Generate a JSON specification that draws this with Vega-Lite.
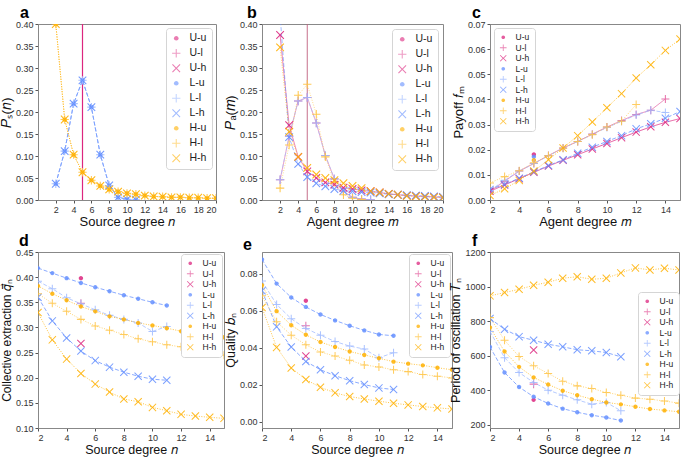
{
"$schema":"https://vega.github.io/schema/vega-lite/v6.json",
"autosize":{"type":"none"},
"padding":{"left":38,"top":24,"right":647,"bottom":435},
"background":"white",
"config":{"font":"Liberation Sans","view":{"stroke":"#888","strokeWidth":1},
 "axis":{"grid":false,"domainColor":"#888","tickColor":"#555","tickSize":3,"labelFontSize":9,"labelColor":"#333","titleFontWeight":"normal","titleColor":"#111","labelPadding":2,"titlePadding":2,"labelFont":"Liberation Sans","titleFont":"Liberation Sans","labelOverlap":false,"tickCount":30},
 "axisX":{"titlePadding":1},
 "legend":{"padding":5,"strokeColor":"#d5d5d5","fillColor":"#ffffff","cornerRadius":3,"symbolStrokeWidth":0,"labelFont":"Liberation Sans","labelColor":"#222","labelOffset":8},
 "title":{"font":"Liberation Sans","fontWeight":"bold","anchor":"start","frame":"group","color":"#000"}
},
"datasets":{
"av":[{"x":5}],
"bv":[{"x":5}],
"a":[
{"s":"L-u","x":2,"y":0.037},{"s":"L-u","x":3,"y":0.111},{"s":"L-u","x":4,"y":0.219},{"s":"L-u","x":5,"y":0.272},{"s":"L-u","x":6,"y":0.211},{"s":"L-u","x":7,"y":0.103},{"s":"L-u","x":8,"y":0.033},{"s":"L-u","x":9,"y":0.006},{"s":"L-u","x":10,"y":0.0015},{"s":"L-u","x":11,"y":0.0005},
{"s":"L-l","x":2,"y":0.037},{"s":"L-l","x":3,"y":0.111},{"s":"L-l","x":4,"y":0.219},{"s":"L-l","x":5,"y":0.272},{"s":"L-l","x":6,"y":0.211},{"s":"L-l","x":7,"y":0.103},{"s":"L-l","x":8,"y":0.033},{"s":"L-l","x":9,"y":0.006},{"s":"L-l","x":10,"y":0.0015},{"s":"L-l","x":11,"y":0.0005},
{"s":"L-h","x":2,"y":0.037},{"s":"L-h","x":3,"y":0.111},{"s":"L-h","x":4,"y":0.219},{"s":"L-h","x":5,"y":0.272},{"s":"L-h","x":6,"y":0.211},{"s":"L-h","x":7,"y":0.103},{"s":"L-h","x":8,"y":0.033},{"s":"L-h","x":9,"y":0.006},{"s":"L-h","x":10,"y":0.0015},{"s":"L-h","x":11,"y":0.0005},
{"s":"H-u","x":2,"y":0.40},{"s":"H-u","x":3,"y":0.183},{"s":"H-u","x":4,"y":0.103},{"s":"H-u","x":5,"y":0.063},{"s":"H-u","x":6,"y":0.045},{"s":"H-u","x":7,"y":0.032},{"s":"H-u","x":8,"y":0.024},{"s":"H-u","x":9,"y":0.019},{"s":"H-u","x":10,"y":0.015},{"s":"H-u","x":11,"y":0.013},{"s":"H-u","x":12,"y":0.010},{"s":"H-u","x":13,"y":0.008},{"s":"H-u","x":14,"y":0.0075},{"s":"H-u","x":15,"y":0.006},{"s":"H-u","x":16,"y":0.006},{"s":"H-u","x":17,"y":0.005},{"s":"H-u","x":18,"y":0.005},{"s":"H-u","x":19,"y":0.004},{"s":"H-u","x":20,"y":0.004},
{"s":"H-l","x":2,"y":0.40},{"s":"H-l","x":3,"y":0.183},{"s":"H-l","x":4,"y":0.103},{"s":"H-l","x":5,"y":0.063},{"s":"H-l","x":6,"y":0.045},{"s":"H-l","x":7,"y":0.032},{"s":"H-l","x":8,"y":0.024},{"s":"H-l","x":9,"y":0.019},{"s":"H-l","x":10,"y":0.015},{"s":"H-l","x":11,"y":0.013},{"s":"H-l","x":12,"y":0.010},{"s":"H-l","x":13,"y":0.008},{"s":"H-l","x":14,"y":0.0075},{"s":"H-l","x":15,"y":0.006},{"s":"H-l","x":16,"y":0.006},{"s":"H-l","x":17,"y":0.005},{"s":"H-l","x":18,"y":0.005},{"s":"H-l","x":19,"y":0.004},{"s":"H-l","x":20,"y":0.004},
{"s":"H-h","x":2,"y":0.40},{"s":"H-h","x":3,"y":0.183},{"s":"H-h","x":4,"y":0.103},{"s":"H-h","x":5,"y":0.063},{"s":"H-h","x":6,"y":0.045},{"s":"H-h","x":7,"y":0.032},{"s":"H-h","x":8,"y":0.024},{"s":"H-h","x":9,"y":0.019},{"s":"H-h","x":10,"y":0.015},{"s":"H-h","x":11,"y":0.013},{"s":"H-h","x":12,"y":0.010},{"s":"H-h","x":13,"y":0.008},{"s":"H-h","x":14,"y":0.0075},{"s":"H-h","x":15,"y":0.006},{"s":"H-h","x":16,"y":0.006},{"s":"H-h","x":17,"y":0.005},{"s":"H-h","x":18,"y":0.005},{"s":"H-h","x":19,"y":0.004},{"s":"H-h","x":20,"y":0.004}
],
"b":[
{"s":"U-l","x":2,"y":0.046},{"s":"U-l","x":3,"y":0.145},{"s":"U-l","x":4,"y":0.225},{"s":"U-l","x":5,"y":0.233},{"s":"U-l","x":6,"y":0.175},{"s":"U-l","x":7,"y":0.101},{"s":"U-l","x":8,"y":0.048},{"s":"U-l","x":9,"y":0.02},{"s":"U-l","x":10,"y":0.006},{"s":"U-l","x":11,"y":0.002},{"s":"U-l","x":12,"y":0.0005},
{"s":"L-l","x":2,"y":0.046},{"s":"L-l","x":3,"y":0.145},{"s":"L-l","x":4,"y":0.225},{"s":"L-l","x":5,"y":0.233},{"s":"L-l","x":6,"y":0.175},{"s":"L-l","x":7,"y":0.101},{"s":"L-l","x":8,"y":0.048},{"s":"L-l","x":9,"y":0.02},{"s":"L-l","x":10,"y":0.006},{"s":"L-l","x":11,"y":0.002},{"s":"L-l","x":12,"y":0.0005},
{"s":"H-l","x":2,"y":0.027},{"s":"H-l","x":3,"y":0.125},{"s":"H-l","x":4,"y":0.238},{"s":"H-l","x":5,"y":0.263},{"s":"H-l","x":6,"y":0.195},{"s":"H-l","x":7,"y":0.098},{"s":"H-l","x":8,"y":0.04},{"s":"H-l","x":9,"y":0.012},{"s":"H-l","x":10,"y":0.004},{"s":"H-l","x":11,"y":0.001},
{"s":"U-h","x":2,"y":0.375},{"s":"U-h","x":3,"y":0.17},{"s":"U-h","x":4,"y":0.098},{"s":"U-h","x":5,"y":0.065},{"s":"U-h","x":6,"y":0.05},{"s":"U-h","x":7,"y":0.04},{"s":"U-h","x":8,"y":0.035},{"s":"U-h","x":9,"y":0.028},{"s":"U-h","x":10,"y":0.025},{"s":"U-h","x":11,"y":0.022},{"s":"U-h","x":12,"y":0.02},{"s":"U-h","x":13,"y":0.017},{"s":"U-h","x":14,"y":0.014},{"s":"U-h","x":15,"y":0.012},{"s":"U-h","x":16,"y":0.010},{"s":"U-h","x":17,"y":0.009},{"s":"U-h","x":18,"y":0.008},{"s":"U-h","x":19,"y":0.007},{"s":"U-h","x":20,"y":0.006},
{"s":"L-h","x":2,"y":0.42},{"s":"L-h","x":3,"y":0.143},{"s":"L-h","x":4,"y":0.082},{"s":"L-h","x":5,"y":0.052},{"s":"L-h","x":6,"y":0.038},{"s":"L-h","x":7,"y":0.031},{"s":"L-h","x":8,"y":0.025},{"s":"L-h","x":9,"y":0.021},{"s":"L-h","x":10,"y":0.020},{"s":"L-h","x":11,"y":0.018},{"s":"L-h","x":12,"y":0.017},{"s":"L-h","x":13,"y":0.015},{"s":"L-h","x":14,"y":0.013},{"s":"L-h","x":15,"y":0.012},{"s":"L-h","x":16,"y":0.011},{"s":"L-h","x":17,"y":0.010},{"s":"L-h","x":18,"y":0.009},{"s":"L-h","x":19,"y":0.008},{"s":"L-h","x":20,"y":0.007},
{"s":"H-h","x":2,"y":0.347},{"s":"H-h","x":3,"y":0.155},{"s":"H-h","x":4,"y":0.098},{"s":"H-h","x":5,"y":0.073},{"s":"H-h","x":6,"y":0.058},{"s":"H-h","x":7,"y":0.050},{"s":"H-h","x":8,"y":0.045},{"s":"H-h","x":9,"y":0.038},{"s":"H-h","x":10,"y":0.032},{"s":"H-h","x":11,"y":0.027},{"s":"H-h","x":12,"y":0.020},{"s":"H-h","x":13,"y":0.017},{"s":"H-h","x":14,"y":0.014},{"s":"H-h","x":15,"y":0.012},{"s":"H-h","x":16,"y":0.009},{"s":"H-h","x":17,"y":0.008},{"s":"H-h","x":18,"y":0.007},{"s":"H-h","x":19,"y":0.006},{"s":"H-h","x":20,"y":0.005}
],
"c":[
{"s":"U-u","x":5,"y":0.0181},{"s":"L-u","x":5,"y":0.0172},{"s":"H-u","x":5,"y":0.0158},
{"s":"U-l","x":2,"y":0.0035},{"s":"U-l","x":3,"y":0.0075},{"s":"U-l","x":4,"y":0.0115},{"s":"U-l","x":5,"y":0.0145},{"s":"U-l","x":6,"y":0.0177},{"s":"U-l","x":7,"y":0.0207},{"s":"U-l","x":8,"y":0.0233},{"s":"U-l","x":9,"y":0.0262},{"s":"U-l","x":10,"y":0.029},{"s":"U-l","x":11,"y":0.0316},{"s":"U-l","x":12,"y":0.034},{"s":"U-l","x":13,"y":0.0357},{"s":"U-l","x":14,"y":0.0402},
{"s":"L-l","x":2,"y":0.0038},{"s":"L-l","x":3,"y":0.0078},{"s":"L-l","x":4,"y":0.0115},{"s":"L-l","x":5,"y":0.0145},{"s":"L-l","x":6,"y":0.0176},{"s":"L-l","x":7,"y":0.0206},{"s":"L-l","x":8,"y":0.0233},{"s":"L-l","x":9,"y":0.0261},{"s":"L-l","x":10,"y":0.0288},{"s":"L-l","x":11,"y":0.0313},{"s":"L-l","x":12,"y":0.0338},{"s":"L-l","x":13,"y":0.0357},{"s":"L-l","x":14,"y":0.0348},
{"s":"H-l","x":2,"y":0.0068},{"s":"H-l","x":3,"y":0.0093},{"s":"H-l","x":4,"y":0.0116},{"s":"H-l","x":5,"y":0.0148},{"s":"H-l","x":6,"y":0.0176},{"s":"H-l","x":7,"y":0.0206},{"s":"H-l","x":8,"y":0.0233},{"s":"H-l","x":9,"y":0.026},{"s":"H-l","x":10,"y":0.029},{"s":"H-l","x":11,"y":0.0313},{"s":"H-l","x":12,"y":0.038},
{"s":"U-h","x":2,"y":0.0035},{"s":"U-h","x":3,"y":0.006},{"s":"U-h","x":4,"y":0.0085},{"s":"U-h","x":5,"y":0.011},{"s":"U-h","x":6,"y":0.0135},{"s":"U-h","x":7,"y":0.0158},{"s":"U-h","x":8,"y":0.018},{"s":"U-h","x":9,"y":0.0203},{"s":"U-h","x":10,"y":0.0225},{"s":"U-h","x":11,"y":0.0248},{"s":"U-h","x":12,"y":0.027},{"s":"U-h","x":13,"y":0.0291},{"s":"U-h","x":14,"y":0.0309},{"s":"U-h","x":15,"y":0.0324},
{"s":"L-h","x":2,"y":0.0042},{"s":"L-h","x":3,"y":0.0062},{"s":"L-h","x":4,"y":0.0087},{"s":"L-h","x":5,"y":0.0112},{"s":"L-h","x":6,"y":0.0137},{"s":"L-h","x":7,"y":0.016},{"s":"L-h","x":8,"y":0.0186},{"s":"L-h","x":9,"y":0.021},{"s":"L-h","x":10,"y":0.0233},{"s":"L-h","x":11,"y":0.0256},{"s":"L-h","x":12,"y":0.0283},{"s":"L-h","x":13,"y":0.0303},{"s":"L-h","x":14,"y":0.0325},{"s":"L-h","x":15,"y":0.0352},
{"s":"H-h","x":2,"y":0.0018},{"s":"H-h","x":3,"y":0.0045},{"s":"H-h","x":4,"y":0.0078},{"s":"H-h","x":5,"y":0.0115},{"s":"H-h","x":6,"y":0.016},{"s":"H-h","x":7,"y":0.0207},{"s":"H-h","x":8,"y":0.0256},{"s":"H-h","x":9,"y":0.031},{"s":"H-h","x":10,"y":0.0367},{"s":"H-h","x":11,"y":0.0423},{"s":"H-h","x":12,"y":0.0485},{"s":"H-h","x":13,"y":0.0538},{"s":"H-h","x":14,"y":0.0595},{"s":"H-h","x":15,"y":0.064}
],
"d":[
{"s":"U-u","x":5,"y":0.398},{"s":"U-l","x":5,"y":0.348},{"s":"U-h","x":5,"y":0.268},
{"s":"L-u","x":2,"y":0.418},{"s":"L-u","x":3,"y":0.408},{"s":"L-u","x":4,"y":0.398},{"s":"L-u","x":5,"y":0.3885},{"s":"L-u","x":6,"y":0.380},{"s":"L-u","x":7,"y":0.372},{"s":"L-u","x":8,"y":0.364},{"s":"L-u","x":9,"y":0.357},{"s":"L-u","x":10,"y":0.350},{"s":"L-u","x":11,"y":0.3435},
{"s":"L-l","x":2,"y":0.392},{"s":"L-l","x":3,"y":0.377},{"s":"L-l","x":4,"y":0.359},{"s":"L-l","x":5,"y":0.347},{"s":"L-l","x":6,"y":0.335},{"s":"L-l","x":7,"y":0.324},{"s":"L-l","x":8,"y":0.316},{"s":"L-l","x":9,"y":0.309},{"s":"L-l","x":10,"y":0.292},{"s":"L-l","x":11,"y":0.302},
{"s":"L-h","x":2,"y":0.360},{"s":"L-h","x":3,"y":0.313},{"s":"L-h","x":4,"y":0.279},{"s":"L-h","x":5,"y":0.253},{"s":"L-h","x":6,"y":0.234},{"s":"L-h","x":7,"y":0.221},{"s":"L-h","x":8,"y":0.211},{"s":"L-h","x":9,"y":0.203},{"s":"L-h","x":10,"y":0.197},{"s":"L-h","x":11,"y":0.195},
{"s":"H-u","x":2,"y":0.3825},{"s":"H-u","x":3,"y":0.367},{"s":"H-u","x":4,"y":0.354},{"s":"H-u","x":5,"y":0.3415},{"s":"H-u","x":6,"y":0.332},{"s":"H-u","x":7,"y":0.322},{"s":"H-u","x":8,"y":0.316},{"s":"H-u","x":9,"y":0.309},{"s":"H-u","x":10,"y":0.304},{"s":"H-u","x":11,"y":0.2985},{"s":"H-u","x":12,"y":0.2925},{"s":"H-u","x":13,"y":0.288},{"s":"H-u","x":14,"y":0.2833},{"s":"H-u","x":15,"y":0.2806},
{"s":"H-l","x":2,"y":0.367},{"s":"H-l","x":3,"y":0.348},{"s":"H-l","x":4,"y":0.332},{"s":"H-l","x":5,"y":0.316},{"s":"H-l","x":6,"y":0.303},{"s":"H-l","x":7,"y":0.2945},{"s":"H-l","x":8,"y":0.286},{"s":"H-l","x":9,"y":0.2773},{"s":"H-l","x":10,"y":0.2714},{"s":"H-l","x":11,"y":0.2654},{"s":"H-l","x":12,"y":0.2614},{"s":"H-l","x":13,"y":0.2555},{"s":"H-l","x":14,"y":0.2489},{"s":"H-l","x":15,"y":0.2449},
{"s":"H-h","x":2,"y":0.3296},{"s":"H-h","x":3,"y":0.2753},{"s":"H-h","x":4,"y":0.237},{"s":"H-h","x":5,"y":0.2085},{"s":"H-h","x":6,"y":0.1873},{"s":"H-h","x":7,"y":0.1715},{"s":"H-h","x":8,"y":0.1576},{"s":"H-h","x":9,"y":0.1523},{"s":"H-h","x":10,"y":0.141},{"s":"H-h","x":11,"y":0.1344},{"s":"H-h","x":12,"y":0.1271},{"s":"H-h","x":13,"y":0.1238},{"s":"H-h","x":14,"y":0.1212},{"s":"H-h","x":15,"y":0.1192}
],
"e":[
{"s":"U-u","x":5,"y":0.0653},{"s":"U-l","x":5,"y":0.0518},{"s":"U-h","x":5,"y":0.0354},
{"s":"L-u","x":2,"y":0.0877},{"s":"L-u","x":3,"y":0.0746},{"s":"L-u","x":4,"y":0.0671},{"s":"L-u","x":5,"y":0.062},{"s":"L-u","x":6,"y":0.0579},{"s":"L-u","x":7,"y":0.0547},{"s":"L-u","x":8,"y":0.0518},{"s":"L-u","x":9,"y":0.0493},{"s":"L-u","x":10,"y":0.0471},{"s":"L-u","x":11,"y":0.0464},
{"s":"L-l","x":2,"y":0.076},{"s":"L-l","x":3,"y":0.0633},{"s":"L-l","x":4,"y":0.0556},{"s":"L-l","x":5,"y":0.0503},{"s":"L-l","x":6,"y":0.0467},{"s":"L-l","x":7,"y":0.0433},{"s":"L-l","x":8,"y":0.0408},{"s":"L-l","x":9,"y":0.0392},{"s":"L-l","x":10,"y":0.0345},{"s":"L-l","x":11,"y":0.0372},
{"s":"L-h","x":2,"y":0.0707},{"s":"L-h","x":3,"y":0.0512},{"s":"L-h","x":4,"y":0.0403},{"s":"L-h","x":5,"y":0.0325},{"s":"L-h","x":6,"y":0.028},{"s":"L-h","x":7,"y":0.0248},{"s":"L-h","x":8,"y":0.0221},{"s":"L-h","x":9,"y":0.020},{"s":"L-h","x":10,"y":0.0182},{"s":"L-h","x":11,"y":0.0173},
{"s":"H-u","x":2,"y":0.0737},{"s":"H-u","x":3,"y":0.0597},{"s":"H-u","x":4,"y":0.0521},{"s":"H-u","x":5,"y":0.0469},{"s":"H-u","x":6,"y":0.043},{"s":"H-u","x":7,"y":0.0403},{"s":"H-u","x":8,"y":0.0379},{"s":"H-u","x":9,"y":0.036},{"s":"H-u","x":10,"y":0.0342},{"s":"H-u","x":11,"y":0.0324},{"s":"H-u","x":12,"y":0.0313},{"s":"H-u","x":13,"y":0.0304},{"s":"H-u","x":14,"y":0.0291},{"s":"H-u","x":15,"y":0.028},
{"s":"H-l","x":2,"y":0.068},{"s":"H-l","x":3,"y":0.054},{"s":"H-l","x":4,"y":0.0467},{"s":"H-l","x":5,"y":0.0415},{"s":"H-l","x":6,"y":0.0376},{"s":"H-l","x":7,"y":0.0354},{"s":"H-l","x":8,"y":0.0331},{"s":"H-l","x":9,"y":0.0306},{"s":"H-l","x":10,"y":0.0295},{"s":"H-l","x":11,"y":0.028},{"s":"H-l","x":12,"y":0.027},{"s":"H-l","x":13,"y":0.0254},{"s":"H-l","x":14,"y":0.0245},{"s":"H-l","x":15,"y":0.0236},
{"s":"H-h","x":2,"y":0.0617},{"s":"H-h","x":3,"y":0.0401},{"s":"H-h","x":4,"y":0.029},{"s":"H-h","x":5,"y":0.0227},{"s":"H-h","x":6,"y":0.0185},{"s":"H-h","x":7,"y":0.0155},{"s":"H-h","x":8,"y":0.0135},{"s":"H-h","x":9,"y":0.0122},{"s":"H-h","x":10,"y":0.011},{"s":"H-h","x":11,"y":0.0099},{"s":"H-h","x":12,"y":0.009},{"s":"H-h","x":13,"y":0.0081},{"s":"H-h","x":14,"y":0.0074},{"s":"H-h","x":15,"y":0.0068}
],
"f":[
{"s":"U-u","x":5,"y":344},{"s":"U-l","x":5,"y":435},{"s":"U-h","x":5,"y":633},
{"s":"L-u","x":2,"y":650},{"s":"L-u","x":3,"y":502},{"s":"L-u","x":4,"y":418},{"s":"L-u","x":5,"y":362},{"s":"L-u","x":6,"y":323},{"s":"L-u","x":7,"y":293},{"s":"L-u","x":8,"y":272},{"s":"L-u","x":9,"y":255},{"s":"L-u","x":10,"y":242},{"s":"L-u","x":11,"y":224},
{"s":"L-l","x":2,"y":740},{"s":"L-l","x":3,"y":588},{"s":"L-l","x":4,"y":502},{"s":"L-l","x":5,"y":445},{"s":"L-l","x":6,"y":400},{"s":"L-l","x":7,"y":371},{"s":"L-l","x":8,"y":344},{"s":"L-l","x":9,"y":319},{"s":"L-l","x":10,"y":329},{"s":"L-l","x":11,"y":281},
{"s":"L-h","x":2,"y":815},{"s":"L-h","x":3,"y":753},{"s":"L-h","x":4,"y":710},{"s":"L-h","x":5,"y":689},{"s":"L-h","x":6,"y":666},{"s":"L-h","x":7,"y":651},{"s":"L-h","x":8,"y":634},{"s":"L-h","x":9,"y":628},{"s":"L-h","x":10,"y":618},{"s":"L-h","x":11,"y":593},
{"s":"H-u","x":2,"y":763},{"s":"H-u","x":3,"y":624},{"s":"H-u","x":4,"y":535},{"s":"H-u","x":5,"y":474},{"s":"H-u","x":6,"y":433},{"s":"H-u","x":7,"y":397},{"s":"H-u","x":8,"y":371},{"s":"H-u","x":9,"y":348},{"s":"H-u","x":10,"y":329},{"s":"H-u","x":11,"y":318},{"s":"H-u","x":12,"y":304},{"s":"H-u","x":13,"y":291},{"s":"H-u","x":14,"y":283},{"s":"H-u","x":15,"y":275},
{"s":"H-l","x":2,"y":820},{"s":"H-l","x":3,"y":689},{"s":"H-l","x":4,"y":595},{"s":"H-l","x":5,"y":541},{"s":"H-l","x":6,"y":497},{"s":"H-l","x":7,"y":452},{"s":"H-l","x":8,"y":425},{"s":"H-l","x":9,"y":410},{"s":"H-l","x":10,"y":387},{"s":"H-l","x":11,"y":371},{"s":"H-l","x":12,"y":354},{"s":"H-l","x":13,"y":348},{"s":"H-l","x":14,"y":337},{"s":"H-l","x":15,"y":325},
{"s":"H-h","x":2,"y":946},{"s":"H-h","x":3,"y":965},{"s":"H-h","x":4,"y":984},{"s":"H-h","x":5,"y":1007},{"s":"H-h","x":6,"y":1025},{"s":"H-h","x":7,"y":1048},{"s":"H-h","x":8,"y":1057},{"s":"H-h","x":9,"y":1042},{"s":"H-h","x":10,"y":1048},{"s":"H-h","x":11,"y":1079},{"s":"H-h","x":12,"y":1108},{"s":"H-h","x":13,"y":1096},{"s":"H-h","x":14,"y":1106},{"s":"H-h","x":15,"y":1096}
]
},
"bounds":"flush",
"columns":3,
"spacing":{"row":52,"column":38},
"resolve":{"scale":{"color":"independent","shape":"independent","strokeDash":"independent"},"legend":{"color":"independent","shape":"independent","strokeDash":"independent"}},
"concat":[
 {"width":178,"height":176,"title":{"text":"a","fontSize":16,"dx":-18,"dy":5,"offset":4},"data":{"name":"a"},
  "layer":[
   {"data":{"name":"av"},"mark":{"type":"rule","color":"#DC267F","strokeWidth":1.2,"clip":true},"encoding":{"x":{"field":"x","type":"quantitative"}}},
   {"mark":{"type":"line","strokeWidth":1,"opacity":0.6,"clip":true},"encoding":{
     "x":{"field":"x","type":"quantitative","scale":{"domain":[2,20],"nice":false},"axis":{"values":[2,4,6,8,10,12,14,16,18,20],"format":"d","tickCount":30,"labelOverlap":false,"title":"Source degree 𝑛","titleFontSize":13}},
     "y":{"field":"y","type":"quantitative","scale":{"domain":[0,0.4],"nice":false},"axis":{"values":[0,0.05,0.1,0.15,0.2,0.25,0.3,0.35,0.4],"tickCount":30,"labelOverlap":false,"format":".2f","title":"𝑃ₛ(𝑛)","titleFontSize":13.5}},
     "color":{"field":"s","type":"nominal","scale":{"domain":["U-u","U-l","U-h","L-u","L-l","L-h","H-u","H-l","H-h"],"range":["#DC267F","#E35C9E","#DC267F","#648FFF","#9FBAFF","#648FFF","#FFB000","#FFC445","#FFB000"]},"legend":{"title":null,"orient":"top-right","offset":4,"labelFontSize":10.5,"rowPadding":4,"symbolSize":70}},
     "strokeDash":{"field":"s","type":"nominal","scale":{"domain":["U-u","U-l","U-h","L-u","L-l","L-h","H-u","H-l","H-h"],"range":[[1,0],[1,0],[1,0],[4,2],[4,2],[4,2],[1,1.5],[1,1.5],[1,1.5]]},"legend":null}}},
   {"mark":{"type":"point","filled":true,"size":70,"opacity":0.9,"clip":true},"encoding":{
     "x":{"field":"x","type":"quantitative"},"y":{"field":"y","type":"quantitative"},
     "color":{"field":"s","type":"nominal","legend":{"title":null,"orient":"top-right","offset":4,"labelFontSize":10.5,"rowPadding":4,"symbolSize":70}},
     "shape":{"field":"s","type":"nominal","scale":{"domain":["U-u","U-l","U-h","L-u","L-l","L-h","H-u","H-l","H-h"],"range":["M-0.55,0A0.55,0.55,0,1,0,0.55,0A0.55,0.55,0,1,0,-0.55,0Z","M-1,-0.13H-0.13V-1H0.13V-0.13H1V0.13H0.13V1H-0.13V0.13H-1Z","M-0.82,-1L0,-0.18L0.82,-1L1,-0.82L0.18,0L1,0.82L0.82,1L0,0.18L-0.82,1L-1,0.82L-0.18,0L-1,-0.82Z","M-0.55,0A0.55,0.55,0,1,0,0.55,0A0.55,0.55,0,1,0,-0.55,0Z","M-1,-0.13H-0.13V-1H0.13V-0.13H1V0.13H0.13V1H-0.13V0.13H-1Z","M-0.82,-1L0,-0.18L0.82,-1L1,-0.82L0.18,0L1,0.82L0.82,1L0,0.18L-0.82,1L-1,0.82L-0.18,0L-1,-0.82Z","M-0.55,0A0.55,0.55,0,1,0,0.55,0A0.55,0.55,0,1,0,-0.55,0Z","M-1,-0.13H-0.13V-1H0.13V-0.13H1V0.13H0.13V1H-0.13V0.13H-1Z","M-0.82,-1L0,-0.18L0.82,-1L1,-0.82L0.18,0L1,0.82L0.82,1L0,0.18L-0.82,1L-1,0.82L-0.18,0L-1,-0.82Z"]},"legend":{"title":null,"orient":"top-right","offset":4,"labelFontSize":10.5,"rowPadding":4,"symbolSize":70}}}}
  ]},
 {"width":181,"height":176,"title":{"text":"b","fontSize":16,"dx":-15,"dy":5,"offset":4},"data":{"name":"b"},
  "layer":[
   {"data":{"name":"bv"},"mark":{"type":"rule","color":"#C0607F","strokeWidth":0.9,"clip":true},"encoding":{"x":{"field":"x","type":"quantitative"}}},
   {"mark":{"type":"line","strokeWidth":1,"opacity":0.6,"clip":true},"encoding":{
     "x":{"field":"x","type":"quantitative","scale":{"domain":[2,20],"nice":false},"axis":{"values":[2,4,6,8,10,12,14,16,18,20],"format":"d","tickCount":30,"labelOverlap":false,"title":"Agent degree 𝑚","titleFontSize":13}},
     "y":{"field":"y","type":"quantitative","scale":{"domain":[0,0.4],"nice":false},"axis":{"values":[0,0.05,0.1,0.15,0.2,0.25,0.3,0.35,0.4],"tickCount":30,"labelOverlap":false,"format":".2f","title":"𝑃ₐ(𝑚)","titleFontSize":13.5}},
     "color":{"field":"s","type":"nominal","scale":{"domain":["U-u","U-l","U-h","L-u","L-l","L-h","H-u","H-l","H-h"],"range":["#DC267F","#E35C9E","#DC267F","#648FFF","#9FBAFF","#648FFF","#FFB000","#FFC445","#FFB000"]},"legend":{"title":null,"orient":"top-right","offset":5,"labelFontSize":10.5,"rowPadding":4,"symbolSize":70}},
     "strokeDash":{"field":"s","type":"nominal","scale":{"domain":["U-u","U-l","U-h","L-u","L-l","L-h","H-u","H-l","H-h"],"range":[[1,0],[1,0],[1,0],[4,2],[4,2],[4,2],[1,1.5],[1,1.5],[1,1.5]]},"legend":null}}},
   {"mark":{"type":"point","filled":true,"size":70,"opacity":0.9,"clip":true},"encoding":{
     "x":{"field":"x","type":"quantitative"},"y":{"field":"y","type":"quantitative"},
     "color":{"field":"s","type":"nominal","legend":{"title":null,"orient":"top-right","offset":5,"labelFontSize":10.5,"rowPadding":4,"symbolSize":70}},
     "shape":{"field":"s","type":"nominal","scale":{"domain":["U-u","U-l","U-h","L-u","L-l","L-h","H-u","H-l","H-h"],"range":["M-0.55,0A0.55,0.55,0,1,0,0.55,0A0.55,0.55,0,1,0,-0.55,0Z","M-1,-0.13H-0.13V-1H0.13V-0.13H1V0.13H0.13V1H-0.13V0.13H-1Z","M-0.82,-1L0,-0.18L0.82,-1L1,-0.82L0.18,0L1,0.82L0.82,1L0,0.18L-0.82,1L-1,0.82L-0.18,0L-1,-0.82Z","M-0.55,0A0.55,0.55,0,1,0,0.55,0A0.55,0.55,0,1,0,-0.55,0Z","M-1,-0.13H-0.13V-1H0.13V-0.13H1V0.13H0.13V1H-0.13V0.13H-1Z","M-0.82,-1L0,-0.18L0.82,-1L1,-0.82L0.18,0L1,0.82L0.82,1L0,0.18L-0.82,1L-1,0.82L-0.18,0L-1,-0.82Z","M-0.55,0A0.55,0.55,0,1,0,0.55,0A0.55,0.55,0,1,0,-0.55,0Z","M-1,-0.13H-0.13V-1H0.13V-0.13H1V0.13H0.13V1H-0.13V0.13H-1Z","M-0.82,-1L0,-0.18L0.82,-1L1,-0.82L0.18,0L1,0.82L0.82,1L0,0.18L-0.82,1L-1,0.82L-0.18,0L-1,-0.82Z"]},"legend":{"title":null,"orient":"top-right","offset":5,"labelFontSize":10.5,"rowPadding":4,"symbolSize":70}}}}
  ]},
 {"width":190,"height":176,"title":{"text":"c","fontSize":16,"dx":-18,"dy":5,"offset":4},"data":{"name":"c"},
  "layer":[
   {"mark":{"type":"line","strokeWidth":1,"opacity":0.75,"clip":true},"encoding":{
     "x":{"field":"x","type":"quantitative","scale":{"domain":[2,15],"nice":false},"axis":{"values":[2,4,6,8,10,12,14],"format":"d","tickCount":30,"labelOverlap":false,"title":"Agent degree 𝑚","titleFontSize":13}},
     "y":{"field":"y","type":"quantitative","scale":{"domain":[0,0.07],"nice":false},"axis":{"values":[0,0.01,0.02,0.03,0.04,0.05,0.06,0.07],"tickCount":30,"labelOverlap":false,"format":".2f","title":"Payoff 𝑓ₘ","titleFontSize":13}},
     "color":{"field":"s","type":"nominal","scale":{"domain":["U-u","U-l","U-h","L-u","L-l","L-h","H-u","H-l","H-h"],"range":["#DC267F","#E35C9E","#DC267F","#648FFF","#9FBAFF","#648FFF","#FFB000","#FFC445","#FFB000"]},"legend":{"title":null,"orient":"top-left","offset":4,"labelFontSize":8.5,"rowPadding":1.5,"symbolSize":45}},
     "strokeDash":{"field":"s","type":"nominal","scale":{"domain":["U-u","U-l","U-h","L-u","L-l","L-h","H-u","H-l","H-h"],"range":[[1,0],[1,0],[1,0],[4,2],[4,2],[4,2],[1,1.5],[1,1.5],[1,1.5]]},"legend":null}}},
   {"mark":{"type":"point","filled":true,"size":64,"opacity":0.85,"clip":true},"encoding":{
     "x":{"field":"x","type":"quantitative"},"y":{"field":"y","type":"quantitative"},
     "color":{"field":"s","type":"nominal","legend":{"title":null,"orient":"top-left","offset":4,"labelFontSize":8.5,"rowPadding":1.5,"symbolSize":45}},
     "shape":{"field":"s","type":"nominal","scale":{"domain":["U-u","U-l","U-h","L-u","L-l","L-h","H-u","H-l","H-h"],"range":["M-0.55,0A0.55,0.55,0,1,0,0.55,0A0.55,0.55,0,1,0,-0.55,0Z","M-1,-0.13H-0.13V-1H0.13V-0.13H1V0.13H0.13V1H-0.13V0.13H-1Z","M-0.82,-1L0,-0.18L0.82,-1L1,-0.82L0.18,0L1,0.82L0.82,1L0,0.18L-0.82,1L-1,0.82L-0.18,0L-1,-0.82Z","M-0.55,0A0.55,0.55,0,1,0,0.55,0A0.55,0.55,0,1,0,-0.55,0Z","M-1,-0.13H-0.13V-1H0.13V-0.13H1V0.13H0.13V1H-0.13V0.13H-1Z","M-0.82,-1L0,-0.18L0.82,-1L1,-0.82L0.18,0L1,0.82L0.82,1L0,0.18L-0.82,1L-1,0.82L-0.18,0L-1,-0.82Z","M-0.55,0A0.55,0.55,0,1,0,0.55,0A0.55,0.55,0,1,0,-0.55,0Z","M-1,-0.13H-0.13V-1H0.13V-0.13H1V0.13H0.13V1H-0.13V0.13H-1Z","M-0.82,-1L0,-0.18L0.82,-1L1,-0.82L0.18,0L1,0.82L0.82,1L0,0.18L-0.82,1L-1,0.82L-0.18,0L-1,-0.82Z"]},"legend":{"title":null,"orient":"top-left","offset":4,"labelFontSize":8.5,"rowPadding":1.5,"symbolSize":45}}}}
  ]},
 {"width":186,"height":176,"title":{"text":"d","fontSize":16,"dx":-19,"dy":5,"offset":4},"data":{"name":"d"},
  "layer":[
   {"mark":{"type":"line","strokeWidth":1,"opacity":0.75,"clip":true},"encoding":{
     "x":{"field":"x","type":"quantitative","scale":{"domain":[2,15],"nice":false},"axis":{"values":[2,4,6,8,10,12,14],"format":"d","tickCount":30,"labelOverlap":false,"title":"Source degree 𝑛","titleFontSize":12.5}},
     "y":{"field":"y","type":"quantitative","scale":{"domain":[0.1,0.45],"nice":false,"zero":false},"axis":{"values":[0.1,0.15,0.2,0.25,0.3,0.35,0.4,0.45],"tickCount":30,"labelOverlap":false,"format":".2f","title":"Collective extraction 𝑞⃗ₙ","titleFontSize":12}},
     "color":{"field":"s","type":"nominal","scale":{"domain":["U-u","U-l","U-h","L-u","L-l","L-h","H-u","H-l","H-h"],"range":["#DC267F","#E35C9E","#DC267F","#648FFF","#9FBAFF","#648FFF","#FFB000","#FFC445","#FFB000"]},"legend":{"title":null,"orient":"top-right","offset":2,"labelFontSize":8.5,"rowPadding":1.5,"symbolSize":45}},
     "strokeDash":{"field":"s","type":"nominal","scale":{"domain":["U-u","U-l","U-h","L-u","L-l","L-h","H-u","H-l","H-h"],"range":[[1,0],[1,0],[1,0],[4,2],[4,2],[4,2],[1,1.5],[1,1.5],[1,1.5]]},"legend":null}}},
   {"mark":{"type":"point","filled":true,"size":64,"opacity":0.85,"clip":true},"encoding":{
     "x":{"field":"x","type":"quantitative"},"y":{"field":"y","type":"quantitative"},
     "color":{"field":"s","type":"nominal","legend":{"title":null,"orient":"top-right","offset":2,"labelFontSize":8.5,"rowPadding":1.5,"symbolSize":45}},
     "shape":{"field":"s","type":"nominal","scale":{"domain":["U-u","U-l","U-h","L-u","L-l","L-h","H-u","H-l","H-h"],"range":["M-0.55,0A0.55,0.55,0,1,0,0.55,0A0.55,0.55,0,1,0,-0.55,0Z","M-1,-0.13H-0.13V-1H0.13V-0.13H1V0.13H0.13V1H-0.13V0.13H-1Z","M-0.82,-1L0,-0.18L0.82,-1L1,-0.82L0.18,0L1,0.82L0.82,1L0,0.18L-0.82,1L-1,0.82L-0.18,0L-1,-0.82Z","M-0.55,0A0.55,0.55,0,1,0,0.55,0A0.55,0.55,0,1,0,-0.55,0Z","M-1,-0.13H-0.13V-1H0.13V-0.13H1V0.13H0.13V1H-0.13V0.13H-1Z","M-0.82,-1L0,-0.18L0.82,-1L1,-0.82L0.18,0L1,0.82L0.82,1L0,0.18L-0.82,1L-1,0.82L-0.18,0L-1,-0.82Z","M-0.55,0A0.55,0.55,0,1,0,0.55,0A0.55,0.55,0,1,0,-0.55,0Z","M-1,-0.13H-0.13V-1H0.13V-0.13H1V0.13H0.13V1H-0.13V0.13H-1Z","M-0.82,-1L0,-0.18L0.82,-1L1,-0.82L0.18,0L1,0.82L0.82,1L0,0.18L-0.82,1L-1,0.82L-0.18,0L-1,-0.82Z"]},"legend":{"title":null,"orient":"top-right","offset":2,"labelFontSize":8.5,"rowPadding":1.5,"symbolSize":45}}}}
  ]},
 {"width":190,"height":176,"title":{"text":"e","fontSize":16,"dx":-19,"dy":5,"offset":4},"data":{"name":"e"},
  "layer":[
   {"mark":{"type":"line","strokeWidth":1,"opacity":0.75,"clip":true},"encoding":{
     "x":{"field":"x","type":"quantitative","scale":{"domain":[2,15],"nice":false},"axis":{"values":[2,4,6,8,10,12,14],"format":"d","tickCount":30,"labelOverlap":false,"title":"Source degree 𝑛","titleFontSize":12.5}},
     "y":{"field":"y","type":"quantitative","scale":{"domain":[-0.0035,0.0917],"nice":false,"zero":false},"axis":{"values":[0,0.02,0.04,0.06,0.08],"tickCount":30,"labelOverlap":false,"format":".2f","title":"Quality 𝑏ₙ","titleFontSize":12.5}},
     "color":{"field":"s","type":"nominal","scale":{"domain":["U-u","U-l","U-h","L-u","L-l","L-h","H-u","H-l","H-h"],"range":["#DC267F","#E35C9E","#DC267F","#648FFF","#9FBAFF","#648FFF","#FFB000","#FFC445","#FFB000"]},"legend":{"title":null,"orient":"top-right","offset":2,"labelFontSize":8.5,"rowPadding":1.5,"symbolSize":45}},
     "strokeDash":{"field":"s","type":"nominal","scale":{"domain":["U-u","U-l","U-h","L-u","L-l","L-h","H-u","H-l","H-h"],"range":[[1,0],[1,0],[1,0],[4,2],[4,2],[4,2],[1,1.5],[1,1.5],[1,1.5]]},"legend":null}}},
   {"mark":{"type":"point","filled":true,"size":64,"opacity":0.85,"clip":true},"encoding":{
     "x":{"field":"x","type":"quantitative"},"y":{"field":"y","type":"quantitative"},
     "color":{"field":"s","type":"nominal","legend":{"title":null,"orient":"top-right","offset":2,"labelFontSize":8.5,"rowPadding":1.5,"symbolSize":45}},
     "shape":{"field":"s","type":"nominal","scale":{"domain":["U-u","U-l","U-h","L-u","L-l","L-h","H-u","H-l","H-h"],"range":["M-0.55,0A0.55,0.55,0,1,0,0.55,0A0.55,0.55,0,1,0,-0.55,0Z","M-1,-0.13H-0.13V-1H0.13V-0.13H1V0.13H0.13V1H-0.13V0.13H-1Z","M-0.82,-1L0,-0.18L0.82,-1L1,-0.82L0.18,0L1,0.82L0.82,1L0,0.18L-0.82,1L-1,0.82L-0.18,0L-1,-0.82Z","M-0.55,0A0.55,0.55,0,1,0,0.55,0A0.55,0.55,0,1,0,-0.55,0Z","M-1,-0.13H-0.13V-1H0.13V-0.13H1V0.13H0.13V1H-0.13V0.13H-1Z","M-0.82,-1L0,-0.18L0.82,-1L1,-0.82L0.18,0L1,0.82L0.82,1L0,0.18L-0.82,1L-1,0.82L-0.18,0L-1,-0.82Z","M-0.55,0A0.55,0.55,0,1,0,0.55,0A0.55,0.55,0,1,0,-0.55,0Z","M-1,-0.13H-0.13V-1H0.13V-0.13H1V0.13H0.13V1H-0.13V0.13H-1Z","M-0.82,-1L0,-0.18L0.82,-1L1,-0.82L0.18,0L1,0.82L0.82,1L0,0.18L-0.82,1L-1,0.82L-0.18,0L-1,-0.82Z"]},"legend":{"title":null,"orient":"top-right","offset":2,"labelFontSize":8.5,"rowPadding":1.5,"symbolSize":45}}}}
  ]},
 {"width":189,"height":176,"title":{"text":"f","fontSize":16,"dx":-18,"dy":5,"offset":4},"data":{"name":"f"},
  "layer":[
   {"mark":{"type":"line","strokeWidth":1,"opacity":0.75,"clip":true},"encoding":{
     "x":{"field":"x","type":"quantitative","scale":{"domain":[2,15],"nice":false},"axis":{"values":[2,4,6,8,10,12,14],"format":"d","tickCount":30,"labelOverlap":false,"title":"Source degree 𝑛","titleFontSize":12.5}},
     "y":{"field":"y","type":"quantitative","scale":{"domain":[181,1200],"nice":false,"zero":false},"axis":{"values":[200,400,600,800,1000,1200],"format":"d","tickCount":30,"labelOverlap":false,"title":"Period of oscillation 𝑇ₙ","titleFontSize":12.5}},
     "color":{"field":"s","type":"nominal","scale":{"domain":["U-u","U-l","U-h","L-u","L-l","L-h","H-u","H-l","H-h"],"range":["#DC267F","#E35C9E","#DC267F","#648FFF","#9FBAFF","#648FFF","#FFB000","#FFC445","#FFB000"]},"legend":{"title":null,"orient":"none","legendX":148,"legendY":40,"labelFontSize":8.5,"rowPadding":1.5,"symbolSize":45}},
     "strokeDash":{"field":"s","type":"nominal","scale":{"domain":["U-u","U-l","U-h","L-u","L-l","L-h","H-u","H-l","H-h"],"range":[[1,0],[1,0],[1,0],[4,2],[4,2],[4,2],[1,1.5],[1,1.5],[1,1.5]]},"legend":null}}},
   {"mark":{"type":"point","filled":true,"size":64,"opacity":0.85,"clip":true},"encoding":{
     "x":{"field":"x","type":"quantitative"},"y":{"field":"y","type":"quantitative"},
     "color":{"field":"s","type":"nominal","legend":{"title":null,"orient":"none","legendX":148,"legendY":40,"labelFontSize":8.5,"rowPadding":1.5,"symbolSize":45}},
     "shape":{"field":"s","type":"nominal","scale":{"domain":["U-u","U-l","U-h","L-u","L-l","L-h","H-u","H-l","H-h"],"range":["M-0.55,0A0.55,0.55,0,1,0,0.55,0A0.55,0.55,0,1,0,-0.55,0Z","M-1,-0.13H-0.13V-1H0.13V-0.13H1V0.13H0.13V1H-0.13V0.13H-1Z","M-0.82,-1L0,-0.18L0.82,-1L1,-0.82L0.18,0L1,0.82L0.82,1L0,0.18L-0.82,1L-1,0.82L-0.18,0L-1,-0.82Z","M-0.55,0A0.55,0.55,0,1,0,0.55,0A0.55,0.55,0,1,0,-0.55,0Z","M-1,-0.13H-0.13V-1H0.13V-0.13H1V0.13H0.13V1H-0.13V0.13H-1Z","M-0.82,-1L0,-0.18L0.82,-1L1,-0.82L0.18,0L1,0.82L0.82,1L0,0.18L-0.82,1L-1,0.82L-0.18,0L-1,-0.82Z","M-0.55,0A0.55,0.55,0,1,0,0.55,0A0.55,0.55,0,1,0,-0.55,0Z","M-1,-0.13H-0.13V-1H0.13V-0.13H1V0.13H0.13V1H-0.13V0.13H-1Z","M-0.82,-1L0,-0.18L0.82,-1L1,-0.82L0.18,0L1,0.82L0.82,1L0,0.18L-0.82,1L-1,0.82L-0.18,0L-1,-0.82Z"]},"legend":{"title":null,"orient":"none","legendX":148,"legendY":40,"labelFontSize":8.5,"rowPadding":1.5,"symbolSize":45}}}}
  ]}
]
}
